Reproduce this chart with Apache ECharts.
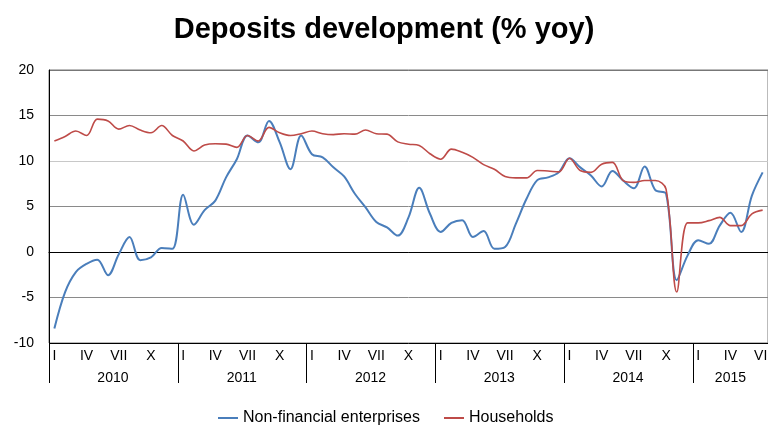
<!DOCTYPE html>
<html>
<head>
<meta charset="utf-8">
<script src="https://cdn.jsdelivr.net/npm/echarts@6/dist/echarts.min.js"></script>
<style>
  html, body { margin: 0; padding: 0; background: #fff; }
  #chart { width: 768px; height: 431px; }
</style>
</head>
<body>
<div id="chart"></div>
<script>
const years = ["2010", "2011", "2012", "2013", "2014", "2015"];
const monthNames = ["I", "II", "III", "IV", "V", "VI", "VII", "VIII", "IX", "X", "XI", "XII"];
const shownMonths = ["I", "IV", "VII", "X"];
const monthsInLastYear = 7;

const enterprises = [
    -8.4, -4.4, -2.2, -1.3, -0.85, -2.55, -0.25, 1.65, -0.9, -0.6, 0.45, 0.35,
    6.3, 3.0, 4.6, 5.65, 8.2, 10.2, 12.8, 12.05, 14.4, 12.05, 9.1, 12.8,
    10.75, 10.4, 9.3, 8.3, 6.4, 4.9, 3.3, 2.7, 1.8, 3.8, 7.05, 4.2,
    2.2, 3.2, 3.5, 1.65, 2.3, 0.35, 0.55, 3.1, 5.85, 7.9, 8.2, 8.75,
    10.3, 9.3, 8.4, 7.2, 8.9, 7.85, 7.0, 9.4, 6.8, 6.4, -3.1, -0.4,
    1.3, 0.9, 2.9, 4.3, 2.2, 6.2, 8.75
];
const households = [
    12.2, 12.7, 13.3, 12.8, 14.6, 14.4, 13.5, 13.9, 13.4, 13.1, 13.9, 12.8,
    12.2, 11.1, 11.75, 11.9, 11.85, 11.5, 12.8, 12.2, 13.7, 13.1, 12.8, 13.0,
    13.3, 13.0, 12.9, 13.0, 12.95, 13.4, 13.0, 12.95, 12.1, 11.85, 11.7, 10.8,
    10.2, 11.3, 10.95, 10.4, 9.6, 9.1, 8.3, 8.15, 8.15, 8.95, 8.9, 8.8,
    10.3, 8.95, 8.75, 9.65, 9.85, 7.85, 7.65, 7.85, 7.85, 6.9, -4.4, 3.2,
    3.2, 3.45, 3.8, 2.9, 2.9, 4.2, 4.6
];
const yMin = -10, yMax = 20, yStep = 5;

// month + year for each point
const monthCats = [];
const yearCats = [];
years.forEach((y, yi) => {
    const n = yi === years.length - 1 ? monthsInLastYear : 12;
    for (let m = 0; m < n; m++) {
        monthCats.push(monthNames[m]);
        yearCats.push(y);
    }
});
// index where each year label sits (middle of its months)
const yearLabelIdx = {};
years.forEach((y) => {
    const first = yearCats.indexOf(y);
    const last = yearCats.lastIndexOf(y);
    yearLabelIdx[Math.floor((first + last + 1) / 2)] = (last - first + 1) % 2 === 0;
});

const font = "Liberation Sans, Arial, sans-serif";
const chart = echarts.init(document.getElementById("chart"));
chart.setOption({
    animation: false,
    textStyle: { fontFamily: font },
    title: {
        text: "Deposits development (% yoy)",
        left: "center",
        top: 10,
        textStyle: { fontSize: 29, fontWeight: "bold", color: "#000", fontFamily: font },
    },
    legend: {
        bottom: 0,
        left: 213,
        itemGap: 24,
        itemWidth: 20,
        itemHeight: 2,
        icon: "rect",
        textStyle: { fontSize: 16, color: "#000", fontFamily: font },
        data: ["Non-financial enterprises", "Households"],
    },
    grid: {
        left: 49, right: 0, top: 70, bottom: 88,
        outerBoundsMode: "none", containLabel: false,
        show: true, borderColor: "#777", borderWidth: 1, backgroundColor: "transparent",
    },
    xAxis: [
        {
            type: "category",
            data: monthCats,
            boundaryGap: true,
            axisLine: { lineStyle: { color: "#000", width: 1 } },
            axisTick: { show: false },
            axisLabel: {
                interval: 0,
                margin: 6,
                fontSize: 14,
                color: "#000",
                formatter: (v) => (shownMonths.includes(v) ? v : ""),
            },
        },
        {
            type: "category",
            data: yearCats,
            position: "bottom",
            boundaryGap: true,
            axisLine: { show: false },
            axisTick: {
                show: true,
                length: 40,
                interval: (i) => i % 12 === 0,
                lineStyle: { color: "#000", width: 1 },
            },
            axisLabel: {
                interval: (i) => i in yearLabelIdx,
                margin: 28,
                fontSize: 14,
                color: "#000",
                formatter: (v, i) => (yearLabelIdx[i] ? v + "\u2007 " : v),
            },
        },
    ],
    yAxis: {
        type: "value",
        min: yMin,
        max: yMax,
        interval: yStep,
        axisLine: { show: true, lineStyle: { color: "#000", width: 1 } },
        axisTick: { show: false },
        axisLabel: { fontSize: 14, color: "#000", margin: 15 },
        splitLine: {
            show: true,
            showMinLine: true,
            showMaxLine: true,
            lineStyle: {
                color: ["#000", "#8a8a8a", "#555", "#8a8a8a", "#c8c8c8", "#8a8a8a", "#777"],
                width: 1,
            },
        },
    },
    series: [
        {
            name: "Non-financial enterprises",
            type: "line",
            data: enterprises,
            smooth: 0.35,
            symbol: "none",
            lineStyle: { color: "#4a7ebb", width: 2 },
            itemStyle: { color: "#4a7ebb" },
        },
        {
            name: "Households",
            type: "line",
            data: households,
            smooth: 0.35,
            symbol: "none",
            lineStyle: { color: "#be4b48", width: 1.6 },
            itemStyle: { color: "#be4b48" },
        },
    ],
});
</script>
</body>
</html>
